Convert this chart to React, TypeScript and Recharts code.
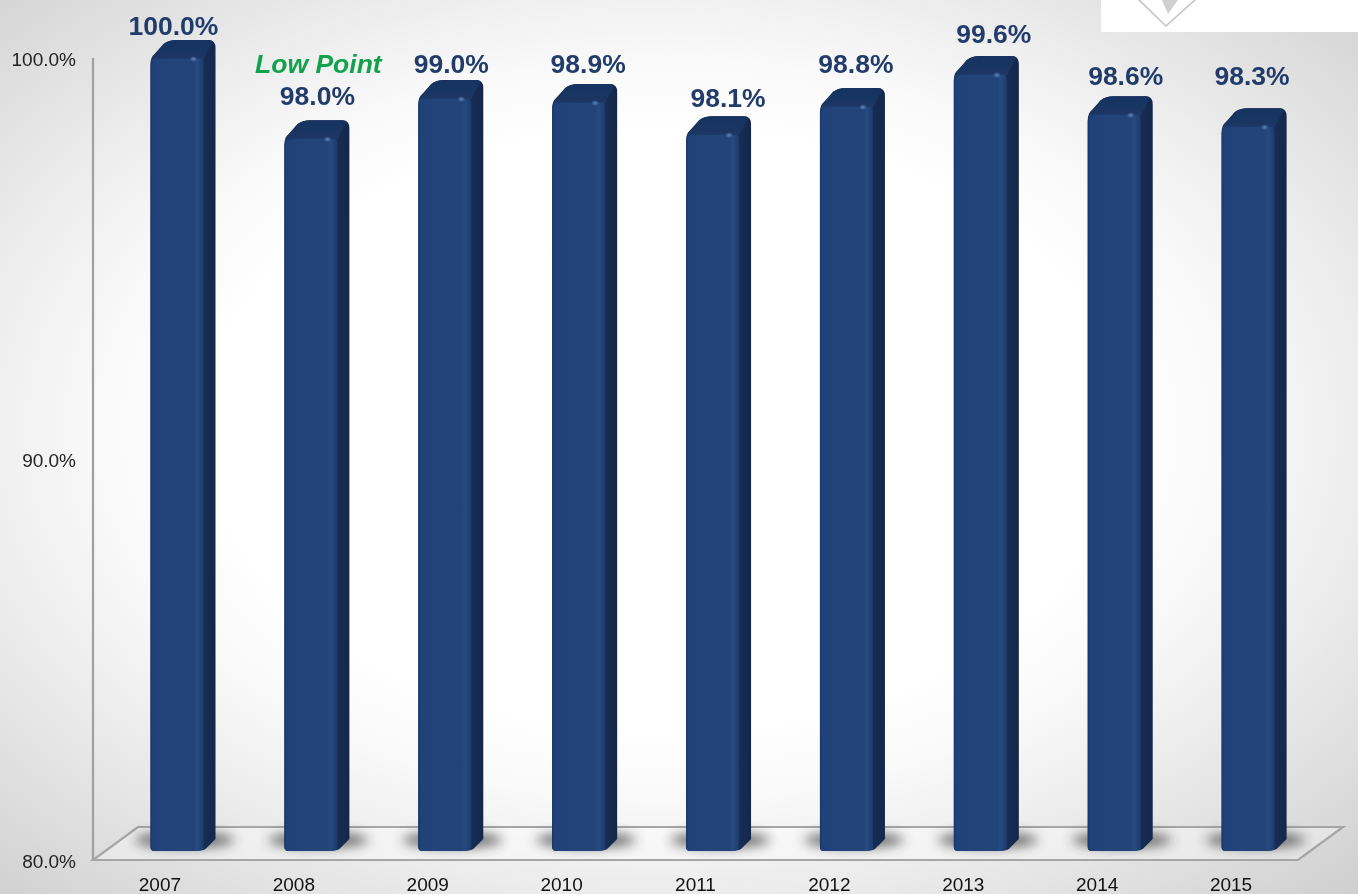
import React from "react";
import { BarChart, Bar, XAxis, YAxis, LabelList, usePlotArea } from "recharts";

const years = ["2007", "2008", "2009", "2010", "2011", "2012", "2013", "2014", "2015"];
const rates = [100.0, 98.0, 99.0, 98.9, 98.1, 98.8, 99.6, 98.6, 98.3];
const yTicks = [80, 90, 100];
const lowPointYear = "2008";
const lowPointText = "Low Point";

// Hand-placed label nudges in the reference (pixels from bar top centre)
const labelDx = [-3.5, 6.5, 6.5, 9.5, 15.5, 9.5, 13.5, 11.5, 4];
const labelDy = [-32, -42, -34, -38, -36, -42, -40, -38, -50];

const table = years.map((year, i) => ({ year, rate: rates[i] }));

const W = 1358;
const H = 894;
const DEPTH_X = 12;
const DEPTH_Y = 16;
const SHIFT = 17.5;

function Bar3D(props: any) {
  const { x, y, width, height } = props;
  const l = x + SHIFT;
  const r = l + width;
  const top = y - 2;
  const bottom = y + height - 9;
  const sr = r + DEPTH_X;
  const back = top - DEPTH_Y;
  const outline =
    `M${l} ${top + 8} Q${l} ${top + 1} ${l + 4} ${top - 2} L${l + 13} ${back + 4} Q${l + 18} ${back} ${l + 26} ${back} ` +
    `L${sr - 7} ${back} Q${sr} ${back} ${sr} ${back + 8} L${sr} ${bottom - 12} L${r + 2} ${bottom - 2} Q${r - 2} ${bottom} ${r - 10} ${bottom} ` +
    `L${l + 4} ${bottom} Q${l} ${bottom} ${l} ${bottom - 4} Z`;
  return (
    <g>
      <ellipse
        cx={r - 19}
        cy={bottom - 11}
        rx={50}
        ry={8}
        fill="#333333"
        opacity={0.68}
        filter="url(#floorBlur)"
      />
      <path d={outline} fill="url(#sideFill)" />
      <path
        d={`M${l} ${top + 9} Q${l} ${top} ${l + 10} ${top} L${r - 8} ${top} Q${r} ${top} ${r} ${top + 8} L${r} ${bottom - 2} Q${r - 2} ${bottom} ${r - 10} ${bottom} L${l + 4} ${bottom} Q${l} ${bottom} ${l} ${bottom - 4} Z`}
        fill="url(#frontFill)"
      />
      <path
        d={`M${l + 1} ${top + 7} Q${l + 1} ${top + 1} ${l + 5} ${top - 2} L${l + 13} ${back + 4} Q${l + 18} ${back} ${l + 26} ${back} L${sr - 7} ${back} Q${sr - 2} ${back} ${sr - 4} ${back + 4} L${r} ${top + 3} Q${r - 4} ${top + 3} ${r - 10} ${top + 3} L${l + 10} ${top + 3} Q${l + 3} ${top + 3} ${l + 1} ${top + 7} Z`}
        fill="url(#topFill)"
        filter="url(#softEdge)"
      />
      <ellipse cx={r - 10} cy={top + 3} rx={4} ry={3} fill="url(#spot)" />
    </g>
  );
}

function RateLabel(props: any) {
  const { x, y, width, value, index } = props;
  const cx = x + width / 2 + SHIFT + labelDx[index];
  const baseY = y + labelDy[index] + 9;
  return (
    <g>
      {years[index] === lowPointYear && (
        <text
          x={cx + 1}
          y={baseY - 32}
          textAnchor="middle"
          fontFamily="'Liberation Sans', Arial, sans-serif"
          fontSize={26.5}
          fontWeight={700}
          fontStyle="italic"
          fill="#12a24d"
        >
          {lowPointText}
        </text>
      )}
      <text
        x={cx}
        y={baseY}
        textAnchor="middle"
        fontFamily="'Liberation Sans', Arial, sans-serif"
        fontSize={26.5}
        fontWeight={700}
        fill="#213c6b"
      >
        {`${Number(value).toFixed(1)}%`}
      </text>
    </g>
  );
}

function Floor() {
  const p = usePlotArea();
  if (!p) return null;
  const fx = p.x;
  const fy = p.y + p.height;
  const fr = p.x + p.width;
  const dx = 45;
  const dy = 33;
  return (
    <polygon
      points={`${fx},${fy} ${fx + dx},${fy - dy} ${fr + dx},${fy - dy} ${fr},${fy}`}
      fill="#ffffff"
      fillOpacity={0.35}
      stroke="#a6a6a6"
      strokeWidth={2.2}
    />
  );
}

export default function App() {
  return (
    <div
      style={{
        position: "absolute",
        left: 0,
        top: 0,
        width: W,
        height: H,
        overflow: "hidden",
        filter: "blur(0.55px)",
        background:
          "radial-gradient(ellipse 74% 74% at 49% 48%, #ffffff 45%, #f9f9f9 56%, #f0f0f0 66%, #dddddd 85%, #cdcdcd 100%)",
      }}
    >
      <svg width={W} height={H} style={{ position: "absolute", left: 0, top: 0 }}>
        <rect x={1101} y={0} width={257} height={32} fill="#ffffff" />
        <polyline points="1138,-1 1166,26 1196,-1" fill="none" stroke="#c4c4c4" strokeWidth={1.6} />
        <path d="M1162 0 L1168 14 L1178 0 Z" fill="#d0d0d0" />
      </svg>
      <div style={{ position: "absolute", left: 0, top: 0 }}>
        <BarChart
          width={W}
          height={H}
          data={table}
          margin={{ top: 58, right: 60, bottom: 0, left: 0 }}
          barCategoryGap={0}
        >
          <defs>
            <linearGradient id="frontFill" x1="0" y1="0" x2="1" y2="0">
              <stop offset="0" stopColor="#1a3767" />
              <stop offset="0.05" stopColor="#21417a" />
              <stop offset="0.5" stopColor="#234478" />
              <stop offset="0.82" stopColor="#234478" />
              <stop offset="0.88" stopColor="#274a80" />
              <stop offset="1" stopColor="#1d3b6c" />
            </linearGradient>
            <linearGradient id="sideFill" x1="0" y1="0" x2="1" y2="0">
              <stop offset="0.8" stopColor="#172e55" />
              <stop offset="1" stopColor="#14274a" />
            </linearGradient>
            <linearGradient id="topFill" x1="0" y1="0" x2="0" y2="1">
              <stop offset="0" stopColor="#183360" />
              <stop offset="0.7" stopColor="#1a3562" />
              <stop offset="1" stopColor="#234478" />
            </linearGradient>
            <radialGradient id="spot">
              <stop offset="0" stopColor="#5f86bd" />
              <stop offset="1" stopColor="#5f86bd" stopOpacity={0} />
            </radialGradient>
            <filter id="floorBlur" x="-40%" y="-200%" width="180%" height="500%">
              <feGaussianBlur stdDeviation="6" />
            </filter>
            <filter id="softEdge" x="-10%" y="-20%" width="120%" height="140%">
              <feGaussianBlur stdDeviation="0.7" />
            </filter>
          </defs>
          <Floor />
          <XAxis
            dataKey="year"
            height={34}
            interval={0}
            axisLine={{ stroke: "#a6a6a6", strokeWidth: 2.2 }}
            tickLine={false}
            tickSize={0}
            tickMargin={18}
            tick={{ fontSize: 19, fill: "#111111", fontFamily: "'Liberation Sans', Arial, sans-serif" }}
          />
          <YAxis
            width={93}
            domain={[80, 100]}
            ticks={yTicks}
            interval={0}
            tickFormatter={(v: number) => `${v.toFixed(1)}%`}
            axisLine={{ stroke: "#a0a0a0", strokeWidth: 2.2 }}
            tickLine={false}
            tickSize={0}
            tickMargin={17}
            tick={{ fontSize: 19, fill: "#222222", fontFamily: "'Liberation Sans', Arial, sans-serif", dy: 1 }}
          />
          <Bar dataKey="rate" barSize={53} isAnimationActive={false} shape={<Bar3D />}>
            <LabelList dataKey="rate" content={<RateLabel />} />
          </Bar>
        </BarChart>
      </div>
    </div>
  );
}
